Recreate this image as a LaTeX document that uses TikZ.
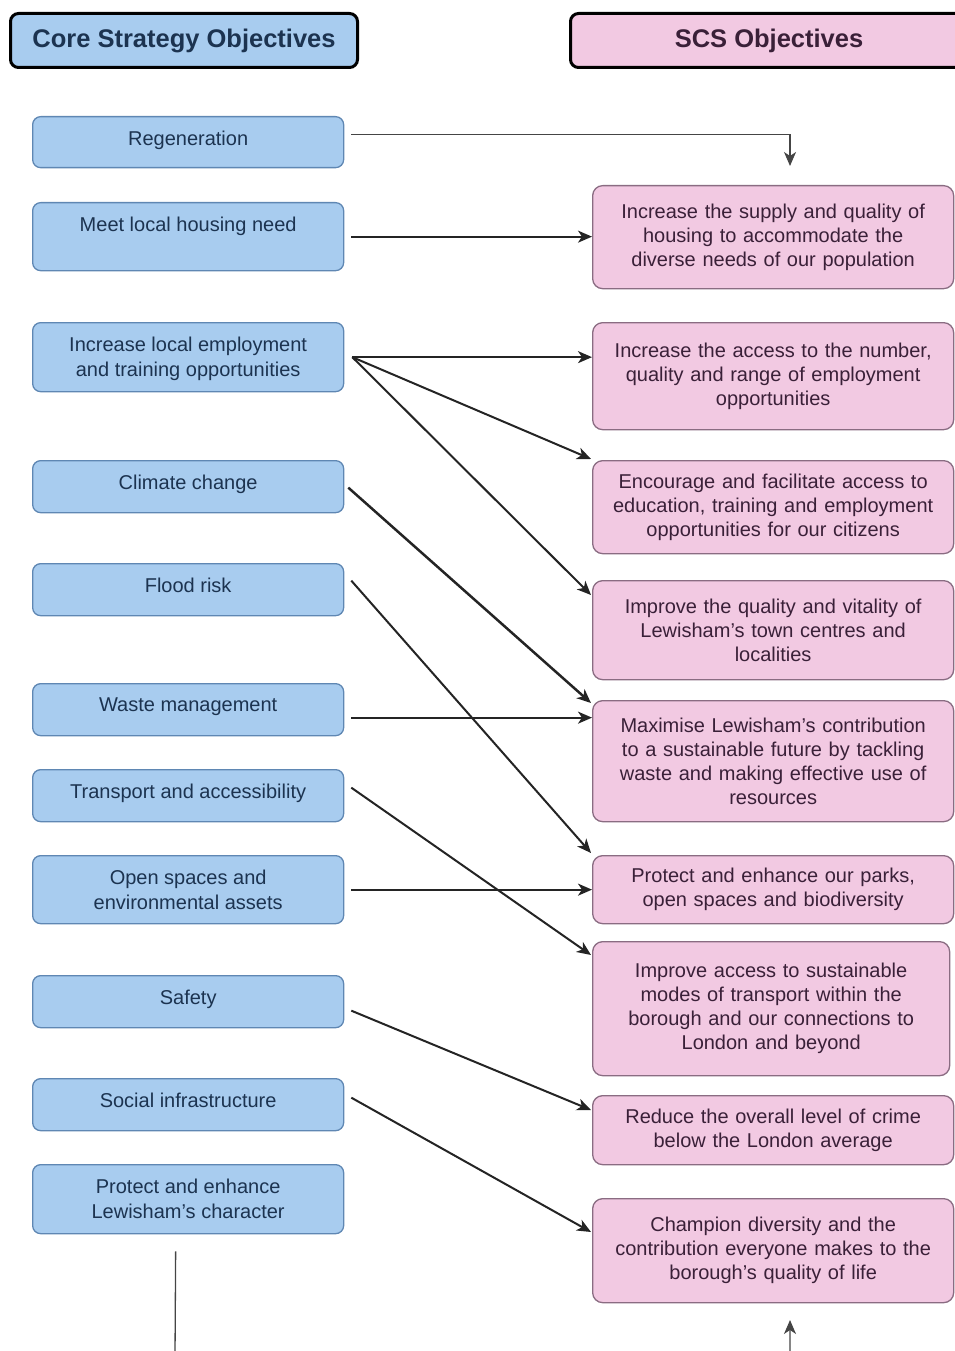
\documentclass[tikz,border=0pt]{standalone}
\usepackage{fontspec}
\setmainfont{Liberation Sans}
\usetikzlibrary{arrows.meta}
\definecolor{lfill}{HTML}{A8CCEF}
\definecolor{lborder}{HTML}{5F87B3}
\definecolor{ltextc}{HTML}{1C3350}
\definecolor{rfill}{HTML}{F2C9E2}
\definecolor{rborder}{HTML}{8A6C82}
\definecolor{rtextc}{HTML}{3A2038}
\definecolor{arrc}{HTML}{242424}
\tikzset{
  hdr/.style={draw=black, line width=3pt, rounded corners=8pt, anchor=north west, inner sep=0pt,
    font=\fontsize{25.5}{30}\selectfont\bfseries},
  lbox/.style={draw=lborder, fill=lfill, line width=1.3pt, rounded corners=8pt, anchor=north west,
    inner sep=0pt, minimum width=311pt},
  ltext/.style={anchor=north, inner sep=0pt, align=center, text=ltextc, font=\fontsize{20}{24.5}\selectfont},
  rbox/.style={draw=rborder, fill=rfill, line width=1.3pt, rounded corners=10pt, anchor=north west,
    inner sep=0pt, text width=361pt, align=center, text=rtextc, font=\fontsize{20}{24}\selectfont},
  tip/.style={-{Stealth[length=14pt,width=12pt,inset=4pt]}},
  arr/.style={draw=arrc, line width=2pt, tip},
  thin/.style={draw=arrc!85, line width=1.3pt},
}
\begin{document}
\begin{tikzpicture}[x=1pt,y=-1pt]
\useasboundingbox (0,0) rectangle (955,1351);
\clip (0,0) rectangle (955,1351);
% headers
\node[hdr, fill=lfill, minimum width=347pt, minimum height=54pt, text=ltextc] (H1) at (9,12) {Core Strategy Objectives};
\node[hdr, fill=rfill, minimum width=397pt, minimum height=54pt, text=rtextc] (H2) at (569,12) {SCS Objectives};
% left boxes
\node[lbox, minimum height=51pt] (L1) at (32,116) {};
\node[lbox, minimum height=68pt] (L2) at (32,202) {};
\node[lbox, minimum height=69pt] (L3) at (32,322) {};
\node[lbox, minimum height=52pt] (L4) at (32,460) {};
\node[lbox, minimum height=52pt] (L5) at (32,563) {};
\node[lbox, minimum height=52pt] (L6) at (32,683) {};
\node[lbox, minimum height=52pt] (L7) at (32,769) {};
\node[lbox, minimum height=68pt] (L8) at (32,855) {};
\node[lbox, minimum height=52pt] (L9) at (32,975) {};
\node[lbox, minimum height=52pt] (L10) at (32,1078) {};
\node[lbox, minimum height=69pt] (L11) at (32,1164) {};
\node[ltext] (T1) at ([yshift=-15pt]L1.north) {Regeneration};
\node[ltext] (T2) at ([yshift=-15pt]L2.north) {Meet local housing need};
\node[ltext] (T3) at ([yshift=-15pt]L3.north) {Increase local employment\\and training opportunities};
\node[ltext] (T4) at ([yshift=-15pt]L4.north) {Climate change};
\node[ltext] (T5) at ([yshift=-15pt]L5.north) {Flood risk};
\node[ltext] (T6) at ([yshift=-15pt]L6.north) {Waste management};
\node[ltext] (T7) at ([yshift=-15pt]L7.north) {Transport and accessibility};
\node[ltext] (T8) at ([yshift=-15pt]L8.north) {Open spaces and\\environmental assets};
\node[ltext] (T9) at ([yshift=-15pt]L9.north) {Safety};
\node[ltext] (T10) at ([yshift=-15pt]L10.north) {Social infrastructure};
\node[ltext] (T11) at ([yshift=-15pt]L11.north) {Protect and enhance\\Lewisham's character};
% right boxes
\node[rbox, minimum height=103pt] (R1) at (592,185) {Increase the supply and quality of\\housing to accommodate the\\diverse needs of our population};
\node[rbox, minimum height=107pt] (R2) at (592,322) {Increase the access to the number,\\quality and range of employment\\opportunities};
\node[rbox, minimum height=93pt] (R3) at (592,460) {Encourage and facilitate access to\\education, training and employment\\opportunities for our citizens};
\node[rbox, minimum height=99pt] (R4) at (592,580) {Improve the quality and vitality of\\Lewisham's town centres and\\localities};
\node[rbox, minimum height=121pt] (R5) at (592,700) {Maximise Lewisham's contribution\\to a sustainable future by tackling\\waste and making effective use of\\resources};
\node[rbox, minimum height=68pt] (R6) at (592,855) {Protect and enhance our parks,\\open spaces and biodiversity};
\node[rbox, minimum height=134pt, text width=357pt] (R7) at (592,941) {Improve access to sustainable\\modes of transport within the\\borough and our connections to\\London and beyond};
\node[rbox, minimum height=69pt] (R8) at (592,1095) {Reduce the overall level of crime\\below the London average};
\node[rbox, minimum height=104pt] (R9) at (592,1198) {Champion diversity and the\\contribution everyone makes to the\\borough's quality of life};
% connectors
\coordinate (a1) at ([xshift=7pt,yshift=7.5pt]L1.east);
\coordinate (a2) at (790,166);
\draw[thin, tip] (a1) -| (a2);
\coordinate (b1) at ([xshift=7pt]L2.east);
\draw[arr] (b1) -- (b1 -| R1.west);
\coordinate (c1) at ([xshift=8pt]L3.east);
\draw[arr] (c1) -- (c1 -| R2.west);
\draw[arr] (c1) -- ([xshift=-1pt,yshift=1pt]R3.north west);
\draw[arr] (c1) -- ([xshift=-1pt,yshift=-15pt]R4.north west);
\coordinate (d1) at ([xshift=4pt,yshift=-1pt]L4.east);
\draw[arr, line width=2.5pt] (d1) -- ([xshift=-1pt,yshift=-3pt]R5.north west);
\coordinate (e1) at ([xshift=7pt,yshift=9pt]L5.east);
\draw[arr] (e1) -- ([xshift=-1pt,yshift=2pt]R6.north west);
\coordinate (f1) at ([xshift=7pt,yshift=-8pt]L6.east);
\draw[arr] (f1) -- (f1 -| R5.west);
\coordinate (g1) at ([xshift=7pt,yshift=8pt]L7.east);
\draw[arr] (g1) -- ([xshift=-1pt,yshift=-14pt]R7.north west);
\coordinate (h1) at ([xshift=7pt]L8.east);
\draw[arr] (h1) -- (h1 -| R6.west);
\coordinate (i1) at ([xshift=7pt,yshift=-9pt]L9.east);
\draw[arr] (i1) -- ([xshift=-1pt,yshift=-15pt]R8.north west);
\coordinate (j1) at ([xshift=7pt,yshift=7pt]L10.east);
\draw[arr] (j1) -- ([xshift=-1pt,yshift=-34pt]R9.north west);
\coordinate (k1) at ([xshift=-12.5pt,yshift=-17pt]L11.south);
\coordinate (k2) at (175,1357);
\coordinate (k3) at (790,1320);
\draw[thin, tip] (k1) -- (k2) -| (k3);
\end{tikzpicture}
\end{document}
